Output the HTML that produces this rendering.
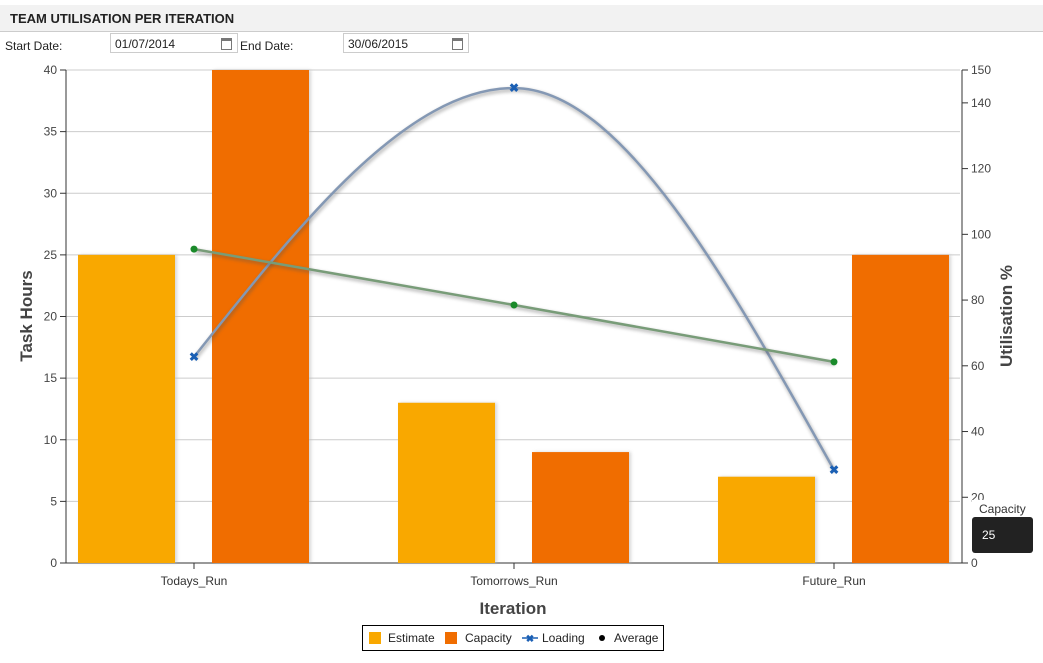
<!DOCTYPE html>
<html><head><meta charset="utf-8"><style>
body{margin:0;width:1043px;height:663px;background:#fff;font-family:"Liberation Sans",sans-serif;position:relative;overflow:hidden}
.hdr{position:absolute;left:0;top:5px;width:1043px;height:26px;background:#f2f2f2;border-bottom:1px solid #ccc}
.hdr span{position:absolute;left:10px;top:6px;font-size:13px;font-weight:bold;color:#222}
.lbl{position:absolute;top:39px;font-size:12px;color:#222}
.inp{position:absolute;top:33px;height:20px;border:1px solid #ccc;font-size:12px;color:#222;box-sizing:border-box;padding:3px 4px}
.cal{position:absolute;right:5px;top:4px;width:9px;height:8px;border:1px solid #777;border-top-width:3px}
.tip1{position:absolute;left:972px;top:500px;width:61px;height:17px;background:#fff;font-size:12px;color:#333;padding:2px 7px;box-sizing:border-box}
.tip2{position:absolute;left:972px;top:517px;width:61px;height:36px;background:#222;border-radius:3px;color:#fff;font-size:12px;padding:11px 10px;box-sizing:border-box}
</style></head><body>
<div class="hdr"><span>TEAM UTILISATION PER ITERATION</span></div>
<div class="lbl" style="left:5px">Start Date:</div>
<div class="inp" style="left:110px;width:128px">01/07/2014<div class="cal"></div></div>
<div class="lbl" style="left:240px">End Date:</div>
<div class="inp" style="left:343px;width:126px">30/06/2015<div class="cal"></div></div>
<svg id="c" width="1043" height="663" style="position:absolute;left:0;top:0">
<defs><filter id="sh" x="-5%" y="-5%" width="110%" height="110%"><feGaussianBlur stdDeviation="1.5"/></filter></defs>
</svg>
<div class="tip1">Capacity</div>
<div class="tip2">25</div>
<script>
const categories=["Todays_Run","Tomorrows_Run","Future_Run"];
const estimate=[25,13,7];
const capacity=[40,9,25];
const loading=[62.7,144.5,28.3];
const average=[95.5,78.5,61.2];
const leftTicks=[0,5,10,15,20,25,30,35,40];
const rightTicks=[0,20,40,60,80,100,120,140,150];
const svg=document.getElementById('c');const NS='http://www.w3.org/2000/svg';
const X0=66,X1=962,Y0=563,Y1=70,PAD=128;
const yL=v=>Y0-(v/40)*(Y0-Y1), yR=v=>Y0-(v/150)*(Y0-Y1);
const step=(X1-X0-2*PAD)/(categories.length-1), xC=i=>X0+PAD+step*i;
function mk(t,a,p){const e=document.createElementNS(NS,t);for(const k in a)e.setAttribute(k,a[k]);(p||svg).appendChild(e);return e;}
leftTicks.forEach(v=>{const y=yL(v);
 if(v>0){const g=mk('line',{x1:X0,x2:X1-2,y1:y,y2:y,stroke:'#ccc'});}
 mk('line',{x1:X0-6,x2:X0,y1:y,y2:y,stroke:'#333'});
 const t=mk('text',{x:X0-9,y:y+4,'text-anchor':'end','font-size':12,fill:'#444'});t.textContent=v;
 });
mk('line',{x1:X0,x2:X0,y1:Y1,y2:Y0,stroke:'#333'});
rightTicks.forEach(v=>{const y=yR(v);mk('line',{x1:X1,x2:X1+6,y1:y,y2:y,stroke:'#333'});
 const t=mk('text',{x:X1+9,y:y+4,'font-size':12,fill:'#444'});t.textContent=v;
 });
mk('line',{x1:X1,x2:X1,y1:Y1,y2:Y0,stroke:'#333'});
mk('line',{x1:X0,x2:X1,y1:Y0,y2:Y0,stroke:'#333'});
categories.forEach((c,i)=>{const cx=xC(i);
 [[estimate[i],cx-116,'#f9a800','bar-estimate'],[capacity[i],cx+18,'#f06d00','bar-capacity']].forEach(([v,x,col,n])=>{
  mk('rect',{x:x+2,y:yL(v),width:97,height:Y0-yL(v),fill:'#bbb',filter:'url(#sh)',opacity:.6});
  const r=mk('rect',{x:x,y:yL(v),width:97,height:Y0-yL(v),fill:col});
  });
 mk('line',{x1:cx,x2:cx,y1:Y0,y2:Y0+6,stroke:'#333'});
 const t=mk('text',{x:cx,y:Y0+22,'text-anchor':'middle','font-size':12,fill:'#333'});t.textContent=c;
 });
function monoPath(pts){const n=pts.length,s=[],m=[];
 for(let i=0;i<n-1;i++)s.push((pts[i+1][1]-pts[i][1])/(pts[i+1][0]-pts[i][0]));
 for(let i=1;i<n-1;i++)m[i]=s[i-1]*s[i]<=0?0:(s[i-1]+s[i])/2;
 m[0]=n>2?(3*s[0]-m[1])/2:s[0];m[n-1]=n>2?(3*s[n-2]-m[n-2])/2:s[0];
 let d='M'+pts[0][0]+','+pts[0][1];
 for(let i=0;i<n-1;i++){const dx=(pts[i+1][0]-pts[i][0])/3;
  d+=` C${pts[i][0]+dx},${pts[i][1]+dx*m[i]} ${pts[i+1][0]-dx},${pts[i+1][1]-dx*m[i+1]} ${pts[i+1][0]},${pts[i+1][1]}`;}
 return d;}
const lp=loading.map((v,i)=>[xC(i),yR(v)]);
const ap=average.map((v,i)=>[xC(i),yR(v)]);
mk('path',{d:monoPath(lp),fill:'none',stroke:'#555',"stroke-width":4,opacity:.35,filter:'url(#sh)',transform:'translate(1,2)'});
const l=mk('path',{d:monoPath(lp),fill:'none',stroke:'#8498b4','stroke-width':2.5});

mk('path',{d:'M'+ap.map(p=>p.join(',')).join(' L'),fill:'none',stroke:'#555','stroke-width':4,opacity:.35,filter:'url(#sh)',transform:'translate(1,2)'});
const a=mk('path',{d:'M'+ap.map(p=>p.join(',')).join(' L'),fill:'none',stroke:'#789c78','stroke-width':2.5});

lp.forEach(p=>{const g=mk('text',{x:p[0],y:p[1]+4,'text-anchor':'middle','font-size':12,'font-weight':'bold',fill:'#1a5fb4'});g.textContent='✖';
 });
ap.forEach(p=>{const c=mk('circle',{cx:p[0],cy:p[1],r:3.5,fill:'#1a8a2a'});
 });
let t=mk('text',{x:32,y:316,'text-anchor':'middle','font-size':17,'font-weight':'bold',fill:'#444',transform:'rotate(-90 32 316)'});t.textContent='Task Hours';

t=mk('text',{x:1012,y:316,'text-anchor':'middle','font-size':17,'font-weight':'bold',fill:'#444',transform:'rotate(-90 1012 316)'});t.textContent='Utilisation %';

t=mk('text',{x:513,y:614,'text-anchor':'middle','font-size':17,'font-weight':'bold',fill:'#444'});t.textContent='Iteration';

const lg=mk('g',{});
mk('rect',{x:362.5,y:625.5,width:301,height:25,fill:'#fff',stroke:'#000'},lg);
mk('rect',{x:369,y:632,width:12,height:12,fill:'#f9a800'},lg);
mk('rect',{x:445,y:632,width:12,height:12,fill:'#f06d00'},lg);
mk('line',{x1:522,x2:538,y1:638,y2:638,stroke:'#1a5fb4','stroke-width':1.5},lg);
let g=mk('text',{x:530,y:642,'text-anchor':'middle','font-size':10,'font-weight':'bold',fill:'#1a5fb4'},lg);g.textContent='✖';
mk('circle',{cx:602,cy:638,r:3,fill:'#000'},lg);
[['Estimate',388],['Capacity',465],['Loading',542],['Average',614]].forEach(([s,x])=>{
 const e=mk('text',{x:x,y:642,'font-size':12,fill:'#222'},lg);e.textContent=s;
 });
</script>
</body></html>
